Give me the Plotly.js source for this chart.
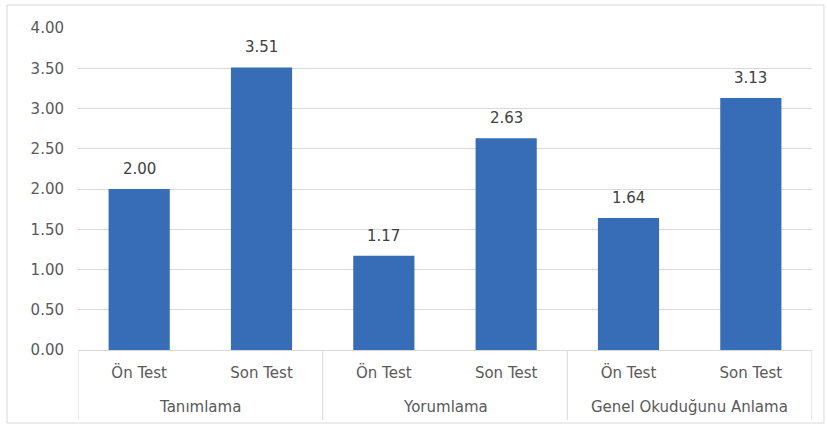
<!DOCTYPE html>
<html>
<head>
<meta charset="utf-8">
<script src="https://cdn.plot.ly/plotly-3.0.1.min.js"></script>
<style>
html,body{margin:0;padding:0;background:#fff;}
#chart{width:827px;height:428px;}
</style>
</head>
<body>
<div id="chart"></div>
<script>
const groups = ["Tanımlama", "Tanımlama", "Yorumlama", "Yorumlama", "Genel Okuduğunu Anlama", "Genel Okuduğunu Anlama"];
const tests = ["Ön Test", "Son Test", "Ön Test", "Son Test", "Ön Test", "Son Test"];
const values = [2.00, 3.51, 1.17, 2.63, 1.64, 3.13];
const yTicks = [0, 0.5, 1, 1.5, 2, 2.5, 3, 3.5, 4];

const font = "DejaVu Sans, sans-serif";
const idx = values.map((v, i) => i);

const trace = {
  type: "bar",
  x: idx,
  y: values,
  width: 0.5,
  marker: {color: "#376db6", line: {width: 0}},
  hoverinfo: "none"
};

// group label positions and dividers derived from the groups array
const uniqueGroups = [];
groups.forEach((g, i) => {
  let u = uniqueGroups.find(o => o.name === g);
  if (!u) { u = {name: g, idx: []}; uniqueGroups.push(u); }
  u.idx.push(i);
});

const annotations = [];
values.forEach((v, i) => {
  annotations.push({
    xref: "x", yref: "y", x: i, y: v,
    text: v.toFixed(2), showarrow: false,
    yanchor: "bottom", yshift: 9,
    font: {family: font, size: 15, color: "#404040"}
  });
});
uniqueGroups.forEach(u => {
  const c = u.idx.reduce((a, b) => a + b, 0) / u.idx.length;
  annotations.push({
    xref: "x", yref: "paper", x: c, y: 0,
    text: u.name, showarrow: false,
    yanchor: "middle", yshift: -57,
    font: {family: font, size: 15, color: "#595959"}
  });
});

const shapes = [];
const bounds = [-0.5];
uniqueGroups.forEach(u => bounds.push(u.idx[u.idx.length - 1] + 0.5));
bounds.forEach(b => {
  shapes.push({
    type: "line", xref: "x", yref: "paper",
    x0: b, x1: b, y0: 0, y1: -0.217,
    line: {color: "#d9d9d9", width: 1}
  });
});
shapes.push({
  type: "rect", xref: "paper", yref: "paper",
  x0: -0.0967, x1: 1.0163, y0: -0.2267, y1: 1.0714,
  line: {color: "#d9d9d9", width: 1}, fillcolor: "rgba(0,0,0,0)", layer: "below"
});

const layout = {
  width: 827, height: 428,
  margin: {l: 78, r: 15, t: 28, b: 78},
  paper_bgcolor: "#ffffff",
  plot_bgcolor: "#ffffff",
  showlegend: false,
  font: {family: font, size: 15, color: "#595959"},
  xaxis: {
    range: [-0.5, idx.length - 0.5],
    tickvals: idx, ticktext: tests,
    showline: true, linecolor: "#d9d9d9", linewidth: 1,
    ticks: "", showgrid: false, zeroline: false,
    ticklabelstandoff: 9,
    tickfont: {family: font, size: 15, color: "#595959"}
  },
  yaxis: {
    range: [0, 4],
    tickvals: yTicks,
    tickformat: ".2f",
    showgrid: true, gridcolor: "#d9d9d9", gridwidth: 1,
    zeroline: false, showline: false, ticks: "",
    ticklabelstandoff: 13,
    tickfont: {family: font, size: 15, color: "#595959"}
  },
  annotations: annotations,
  shapes: shapes
};

Plotly.newPlot("chart", [trace], layout, {staticPlot: true, displayModeBar: false});
</script>
</body>
</html>
